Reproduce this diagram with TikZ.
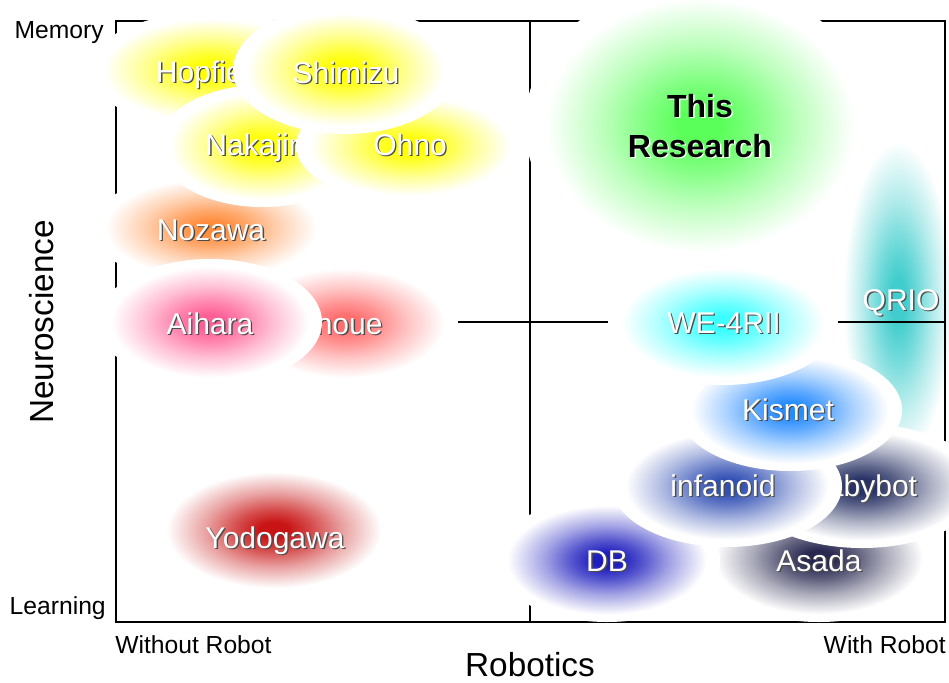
\documentclass[tikz,border=0pt]{standalone}
\usepackage{fontspec}
\setmainfont{Liberation Sans}

\colorlet{glowc}{white}
\pgfdeclareradialshading[glowc]{glow}{\pgfpointorigin}{color(0bp)=(glowc); color(3bp)=(glowc); color(8bp)=(glowc!75!white); color(14bp)=(glowc!40!white); color(22bp)=(white); color(25bp)=(white); color(50bp)=(white)}

\definecolor{cYel}{RGB}{255,255,0}
\definecolor{cOra}{RGB}{255,140,60}
\definecolor{cSal}{RGB}{255,110,110}
\definecolor{cPin}{RGB}{255,95,150}
\definecolor{cRed}{RGB}{200,20,20}
\definecolor{cGre}{RGB}{90,255,90}
\definecolor{cTea}{RGB}{65,205,205}
\definecolor{cCya}{RGB}{60,255,255}
\definecolor{cKis}{RGB}{40,140,255}
\definecolor{cInf}{RGB}{50,80,180}
\definecolor{cBab}{RGB}{40,50,100}
\definecolor{cDB}{RGB}{30,30,190}
\definecolor{cAsa}{RGB}{40,40,80}

\newcommand{\shtxt}[3]{\leavevmode\rlap{\kern1pt\raisebox{-1pt}{\color{#2}#3}}{\color{#1}#3}}

\tikzset{
  blob/.style={shading=glow, /utils/exec={\colorlet{glowc}{#1}}},
  tag/.style={font=\fontsize{22.5}{27}\selectfont, inner sep=0pt, anchor=base},
  axislbl/.style={font=\fontsize{18.5}{22}\selectfont, inner sep=0pt},
  axistitle/.style={font=\fontsize{25}{30}\selectfont, inner sep=0pt},
}

\begin{document}
\begin{tikzpicture}[x=0.75pt, y=-0.75pt]
            \useasboundingbox (0,0) rectangle (949,682);

            \shade[blob=cTea] (898,300) ellipse [x radius=62, y radius=180];
            \node[tag] (qrio) at (901,310) {\shtxt{white}{black!70}{QRIO}};

            % frame and quadrants
            \coordinate (tl) at (116,21);
            \coordinate (br) at (945,622);
            \coordinate (vt) at (530,21);
            \coordinate (vb) at (530,622);
            \coordinate (hl) at (116,322);
            \coordinate (hr) at (945,322);
            \draw[line width=1.1pt] (vt) -- (vb) (hl) -- (hr);
            \draw[line width=2.2pt] (tl) rectangle (br);

            \shade[blob=cRed] (274,530) ellipse [x radius=122, y radius=66];
            \node[tag] (yodo) at (275,548) {\shtxt{white}{black!70}{Yodogawa}};
            \shade[blob=cOra] (211,228) ellipse [x radius=120, y radius=56];
            \node[tag] (noza) at (211,240) {\shtxt{white}{black!70}{Nozawa}};
            \shade[blob=cYel] (211,70) ellipse [x radius=122, y radius=58];
            \node[tag] (hopf) at (211,82) {\shtxt{white}{black!70}{Hopfield}};
            \shade[blob=cYel] (262,146) ellipse [x radius=104, y radius=61];
            \node[tag] (naka) at (268,155) {\shtxt{white}{black!70}{Nakajima}};
            \shade[blob=cYel] (410,146) ellipse [x radius=114, y radius=56];
            \node[tag] (ohno) at (410,155) {\shtxt{white}{black!70}{Ohno}};
            \shade[blob=cYel] (345,70) ellipse [x radius=112, y radius=64];
            \node[tag] (shim) at (346,83) {\shtxt{white}{black!70}{Shimizu}};
            \shade[blob=cSal] (345,323) ellipse [x radius=113, y radius=62];
            \node[tag] (inou) at (345,334) {\shtxt{white}{black!70}{Inoue}};
            \shade[blob=cPin] (210,322) ellipse [x radius=112, y radius=63];
            \node[tag] (aiha) at (210,334) {\shtxt{white}{black!70}{Aihara}};

            \shade[blob=cAsa] (819,558) ellipse [x radius=118, y radius=64];
            \node[tag] (asad) at (819,571) {\shtxt{white}{black!70}{Asada}};
            \shade[blob=cDB] (607,560) ellipse [x radius=113, y radius=62];
            \node[tag] (db) at (607,571) {\shtxt{white}{black!70}{DB}};
            \shade[blob=cBab] (862,486) ellipse [x radius=120, y radius=62];
            \node[tag] (baby) at (862,496) {\shtxt{white}{black!70}{Babybot}};
            \shade[blob=cInf] (727,486) ellipse [x radius=115, y radius=61];
            \node[tag] (infa) at (723,496) {\shtxt{white}{black!70}{infanoid}};
            \shade[blob=cKis] (790,410) ellipse [x radius=112, y radius=61];
            \node[tag] (kism) at (788,420) {\shtxt{white}{black!70}{Kismet}};
            \shade[blob=cCya] (723,323) ellipse [x radius=115, y radius=62];
            \node[tag] (we4r) at (724,333) {\shtxt{white}{black!70}{WE-4RII}};
            \shade[blob=cGre] (700,125) ellipse [x radius=175, y radius=144];
            \node[tag, font=\fontsize{24}{29}\selectfont\bfseries] (this) at (700,117) {\shtxt{black}{white}{This}};
            \node[tag, font=\fontsize{24}{29}\selectfont\bfseries] (rese) at (700,157) {\shtxt{black}{white}{Research}};

            % axis labels
            \node[axislbl, anchor=east] (memo) at (104,33) {Memory};
            \node[axislbl, anchor=east] (lear) at (106,608) {Learning};
            \node[axislbl, anchor=west] (wout) at (115,645) {Without Robot};
            \node[axislbl, anchor=east] (with) at (946,645) {With Robot};
            \node[axistitle, anchor=base] (robo) at (530,676) {Robotics};
            \node[axistitle, rotate=90] (neur) at (42,322) {Neuroscience};
    \end{tikzpicture}
\end{document}
